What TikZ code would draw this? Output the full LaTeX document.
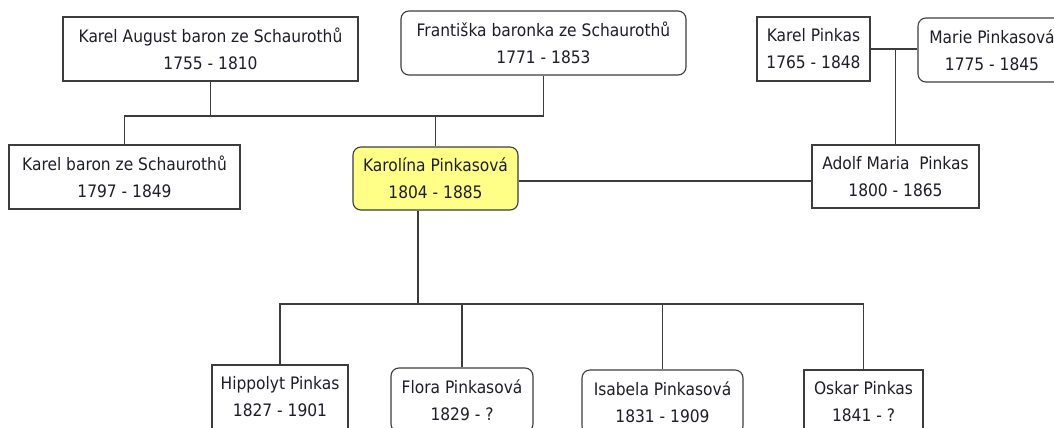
\documentclass[tikz,border=0pt]{standalone}
\usepackage{fontspec}
\setmainfont{DejaVu Sans Condensed}
\definecolor{linec}{HTML}{3C3C3C}
\definecolor{txtc}{HTML}{1E1E28}
\definecolor{hilite}{HTML}{FFFF88}
\begin{document}
\begin{tikzpicture}[x=1pt,y=-1pt,
  person/.style={draw=linec, line width=1.1pt, fill=white, align=center, text=txtc,
    font=\fontsize{17.2}{27}\selectfont, inner sep=0pt},
  rperson/.style={person, rounded corners=8pt},
  conn/.style={draw=linec, line width=1.1pt}]
\useasboundingbox (0,0) rectangle (1054,428);
\fill[white] (0,0) rectangle (1054,428);
\node[person, minimum width=295pt, minimum height=64pt] (ka) at (210.5,49) {Karel August baron ze Schaurothů\\1755 - 1810};
\node[rperson, minimum width=285pt, minimum height=64pt] (fr) at (543.5,43) {Františka baronka ze Schaurothů\\1771 - 1853};
\node[person, minimum width=231pt, minimum height=64pt] (kb) at (124.5,177) {Karel baron ze Schaurothů\\1797 - 1849};
\node[rperson, fill=hilite, minimum width=165pt, minimum height=63pt] (kp) at (435.5,178.5) {Karolína Pinkasová\\1804 - 1885};
\node[person, minimum width=167pt, minimum height=63pt] (ad) at (895.5,176.5) {Adolf Maria\ \ Pinkas\\1800 - 1865};
\node[person, minimum width=113pt, minimum height=64pt] (kpk) at (813.5,49) {Karel Pinkas\\1765 - 1848};
\node[rperson, minimum width=148pt, minimum height=64pt] (mp) at (992,50) {Marie Pinkasová\\1775 - 1845};
\node[person, minimum width=136pt, minimum height=64pt] (hp) at (280,397) {Hippolyt Pinkas\\1827 - 1901};
\node[rperson, minimum width=142pt, minimum height=64pt] (fl) at (462,400) {Flora Pinkasová\\1829 - ?};
\node[rperson, minimum width=161pt, minimum height=64pt] (is) at (662.5,402) {Isabela Pinkasová\\1831 - 1909};
\node[person, minimum width=119pt, minimum height=64pt] (os) at (863.5,402) {Oskar Pinkas\\1841 - ?};
\coordinate (j1) at (435.5,116);
\coordinate (j2) at (418,304);
\draw[conn] (ka.south) |- (j1);
\draw[conn] (fr.south) |- (j1);
\draw[conn] (kb.north) |- (j1);
\draw[conn] (j1) -- (kp.north);
\draw[conn] (kpk.east) -- (kpk.east -| mp.west);
\draw[conn] (ad.north) -- (ad.north |- kpk.east);
\draw[conn] (kp.east |- 0,181) -- (ad.west |- 0,181);
\draw[conn] (kp.south -| j2) -- (j2);
\draw[conn] (hp.north) |- (j2);
\draw[conn] (os.north) |- (j2);
\draw[conn] (fl.north) -- (fl.north |- j2);
\draw[conn] (is.north) -- (is.north |- j2);
\end{tikzpicture}
\end{document}
